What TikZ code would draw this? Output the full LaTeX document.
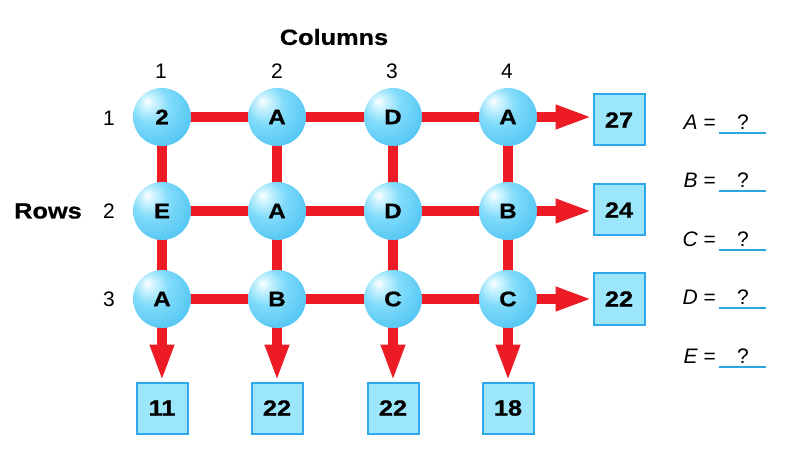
\documentclass[tikz,border=0pt]{standalone}
\usepackage{fontspec}
\setmainfont{Liberation Sans}
\newfontfamily\heavy{Liberation Sans Bold}[FakeStretch=1.15,FakeBold=0.8]
\usetikzlibrary{arrows.meta,backgrounds}
\definecolor{gridred}{RGB}{237,28,36}
\definecolor{boxfill}{RGB}{155,230,250}
\definecolor{boxline}{RGB}{50,168,236}
\definecolor{lineblue}{RGB}{41,168,224}
\definecolor{bubA}{RGB}{215,246,255}
\definecolor{bubB}{RGB}{130,220,250}
\definecolor{bubC}{RGB}{70,192,242}
\definecolor{bubD}{RGB}{35,155,220}
\pgfdeclareradialshading{bubble}{\pgfpoint{-13bp}{14bp}}{%
  color(0bp)=(white); color(4bp)=(bubA); color(16bp)=(bubB);
  color(40bp)=(bubC); color(60bp)=(bubD); color(70bp)=(bubD)}
\tikzset{
  ball/.style={circle, minimum size=58pt, inner sep=0pt, shading=bubble,
    font=\heavy\fontsize{21}{21}\selectfont},
  numbox/.style={draw=boxline, line width=2pt, fill=boxfill, minimum size=51pt,
    inner sep=0pt, font=\heavy\fontsize{22}{22}\selectfont},
  redline/.style={draw=gridred, line width=10pt},
  redarrow/.style={draw=gridred, line width=10pt, -{Triangle[length=37pt,width=22pt]}},
  title/.style={font=\heavy\fontsize{22}{22}\selectfont, inner sep=0pt},
  idx/.style={font=\fontsize{21}{21}\selectfont, inner sep=0pt},
  eqlab/.style={font=\fontsize{21}{21}\selectfont, inner sep=0pt, anchor=east},
  qlab/.style={font=\fontsize{21}{21}\selectfont, inner sep=0pt},
  uline/.style={draw=lineblue, line width=1.5pt}
}
\begin{document}
\begin{tikzpicture}[x=1pt,y=-1pt]
\useasboundingbox (0,0) rectangle (800,462);
% spheres
\node[ball] (s11) at (162,117) {2};
\node[ball] (s12) at (277,117) {A};
\node[ball] (s13) at (393,117) {D};
\node[ball] (s14) at (508,117) {A};
\node[ball] (s21) at (162,211) {E};
\node[ball] (s22) at (277,211) {A};
\node[ball] (s23) at (393,211) {D};
\node[ball] (s24) at (508,211) {B};
\node[ball] (s31) at (162,299) {A};
\node[ball] (s32) at (277,299) {B};
\node[ball] (s33) at (393,299) {C};
\node[ball] (s34) at (508,299) {C};
% result boxes
\node[numbox] (r1) at (619,120) {27};
\node[numbox] (r2) at (619,210) {24};
\node[numbox] (r3) at (619,299) {22};
\node[numbox] (c1) at (162,408) {11};
\node[numbox] (c2) at (277,408) {22};
\node[numbox] (c3) at (393,408) {22};
\node[numbox] (c4) at (508,408) {18};
\begin{scope}[on background layer]
  \draw[redline] (s11.center) -- (s14.center);
  \draw[redline] (s21.center) -- (s24.center);
  \draw[redline] (s31.center) -- (s34.center);
  \draw[redline] (s11.center) -- (s31.center);
  \draw[redline] (s12.center) -- (s32.center);
  \draw[redline] (s13.center) -- (s33.center);
  \draw[redline] (s14.center) -- (s34.center);
  \draw[redarrow] (s14.center) -- (s14.center -| r1.west);
  \draw[redarrow] (s24.center) -- (s24.center -| r2.west);
  \draw[redarrow] (s34.center) -- (s34.center -| r3.west);
  \draw[redarrow] (s31.center) -- (c1.north);
  \draw[redarrow] (s32.center) -- (c2.north);
  \draw[redarrow] (s33.center) -- (c3.north);
  \draw[redarrow] (s34.center) -- (c4.north);
\end{scope}
% labels
\node[title] (coltitle) at (334,37) {Columns};
\node[title] (rowtitle) at (48,211) {Rows};
\node[idx] (k1) at (161,71) {1};
\node[idx] (k2) at (277,71) {2};
\node[idx] (k3) at (392,71) {3};
\node[idx] (k4) at (507,71) {4};
\node[idx] (w1) at (109,118) {1};
\node[idx] (w2) at (109,211) {2};
\node[idx] (w3) at (109,299) {3};
% equations
\foreach \L/\yy [count=\i] in {A/122,B/180,C/239,D/297,E/356}{
  \node[eqlab] (eq\i) at (716,\yy) {\itshape\L\upshape\ =};
  \node[qlab] (q\i) at (743,\yy) {?};
  \coordinate (ua\i) at (719,\yy+11);
  \coordinate (ub\i) at (766,\yy+11);
  \draw[uline] (ua\i) -- (ub\i);
}
\end{tikzpicture}
\end{document}
